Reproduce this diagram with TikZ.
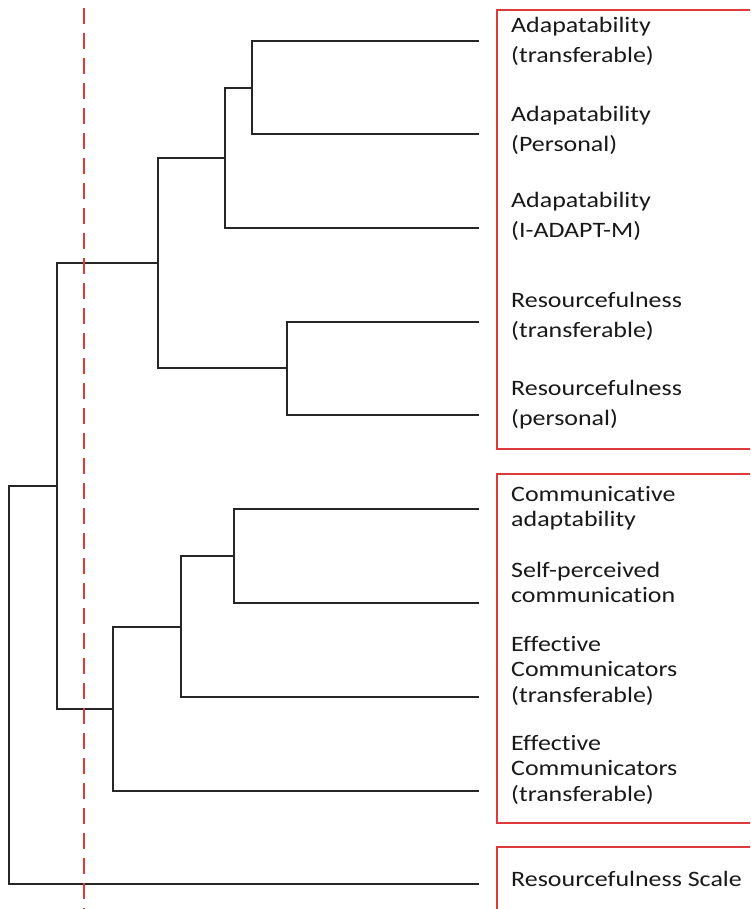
\documentclass[tikz,border=0pt]{standalone}
\usepackage{fontspec}
\usepackage{graphicx}
\setmainfont{Carlito}[Ligatures={NoCommon}]
\definecolor{boxred}{RGB}{222,58,58}
\definecolor{treeline}{RGB}{38,38,38}
\definecolor{txt}{RGB}{25,25,25}
\newcommand\lblA[1]{\scalebox{1.18}[1]{\fontsize{22}{30}\selectfont\begin{tabular}{@{}l@{}}#1\end{tabular}}}
\newcommand\lblB[1]{\scalebox{1.18}[1]{\fontsize{22}{25.5}\selectfont\begin{tabular}{@{}l@{}}#1\end{tabular}}}
\tikzset{
  branch/.style={draw=treeline, line width=2.4pt, line join=miter},
  cutline/.style={draw=boxred, line width=2.8pt, dash pattern=on 16pt off 9pt},
  groupbox/.style={draw=boxred, line width=2.2pt},
  leaflabel/.style={anchor=west, inner sep=0pt, text=txt}
}
\begin{document}
\begin{tikzpicture}[x=1pt,y=-1pt]
\useasboundingbox (0,0) rectangle (750,909);
\clip (0,0) rectangle (750,909);
\fill[white] (0,0) rectangle (750,909);
% group boxes
\node[groupbox, minimum width=270pt, minimum height=439pt, anchor=north west, inner sep=0pt] (box1) at (496,9) {};
\node[groupbox, minimum width=270pt, minimum height=349pt, anchor=north west, inner sep=0pt] (box2) at (496,473) {};
\node[groupbox, minimum width=270pt, minimum height=80pt, anchor=north west, inner sep=0pt] (box3) at (496,846) {};
% leaf ends
\coordinate (l1) at (479,41);
\coordinate (l2) at (479,134);
\coordinate (l3) at (479,228);
\coordinate (l4) at (479,322);
\coordinate (l5) at (479,415);
\coordinate (l6) at (479,509);
\coordinate (l7) at (479,603);
\coordinate (l8) at (479,697);
\coordinate (l9) at (479,791);
\coordinate (l10) at (479,884);
% joints
\coordinate (A) at (252,88);
\coordinate (B) at (225,158);
\coordinate (C) at (287,368);
\coordinate (D) at (158,263);
\coordinate (E) at (234,556);
\coordinate (F) at (181,627);
\coordinate (G) at (113,709);
\coordinate (H) at (57,486);
\coordinate (I) at (9,685);
% tree
\draw[branch] (l1) -| (A) |- (l2);
\draw[branch] (A) -| (B) |- (l3);
\draw[branch] (l4) -| (C) |- (l5);
\draw[branch] (B) -| (D) |- (C);
\draw[branch] (l6) -| (E) |- (l7);
\draw[branch] (E) -| (F) |- (l8);
\draw[branch] (F) -| (G) |- (l9);
\draw[branch] (D) -| (H) |- (G);
\draw[branch] (H) -| (I) |- (l10);
% cut line
\coordinate (cutTop) at (84,8);
\coordinate (cutBot) at (84,915);
\draw[cutline] (cutTop) -- (cutBot);
% labels
\node[leaflabel] (t1) at (511,42) {\lblA{Adapatability\\(transferable)}};
\node[leaflabel] (t2) at (511,131) {\lblA{Adapatability\\(Personal)}};
\node[leaflabel] (t3) at (511,216.5) {\lblA{Adapatability\\(I-ADAPT-M)}};
\node[leaflabel] (t4) at (511,316) {\lblA{Resourcefulness\\(transferable)}};
\node[leaflabel] (t5) at (511,404) {\lblA{Resourcefulness\\(personal)}};
\node[leaflabel] (t6) at (511,509) {\lblB{Communicative\\adaptability}};
\node[leaflabel] (t7) at (511,585) {\lblB{Self-perceived\\communication}};
\node[leaflabel] (t8) at (511,671.5) {\lblB{Effective\\Communicators\\(transferable)}};
\node[leaflabel] (t9) at (511,770.5) {\lblB{Effective\\Communicators\\(transferable)}};
\node[leaflabel] (t10) at (511,881) {\lblB{Resourcefulness Scale}};
\end{tikzpicture}
\end{document}
